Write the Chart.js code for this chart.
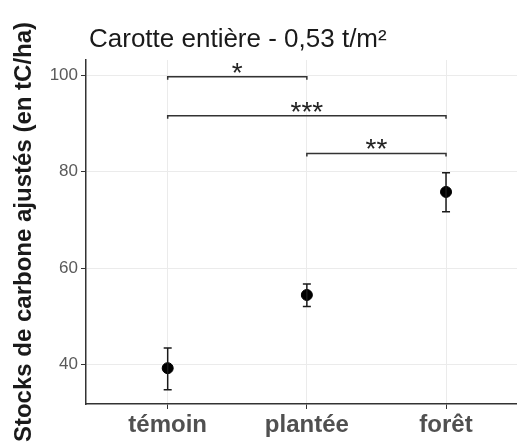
<!DOCTYPE html>
<html>
<head>
<meta charset="utf-8">
<script src="https://cdn.jsdelivr.net/npm/chart.js@4/dist/chart.umd.min.js"></script>
<style>
  html, body { margin: 0; padding: 0; background: #fff; }
  #wrap { width: 517px; height: 444px; }
</style>
</head>
<body>
<div id="wrap"><canvas id="chart"></canvas></div>
<script>
// ------------------ DATA ------------------
const titleText = "Carotte entière - 0,53 t/m²";
const yTitle = "Stocks de carbone ajustés (en tC/ha)";
const categories = ["témoin", "plantée", "forêt"];
const means = [39.2, 54.4, 75.8];
const lowers = [34.7, 52.0, 71.7];
const uppers = [43.4, 56.7, 79.8];
const yTicks = [40, 60, 80, 100];

// significance brackets
const bracketFrom = [0, 0, 1];
const bracketTo = [1, 2, 2];
const bracketY = [99.7, 91.6, 83.8];
const bracketLabels = ["*", "***", "**"];

const FONT = "'Liberation Sans', Arial, sans-serif";

// ------------------ PLUGINS ------------------
const errorBars = {
    id: "errorBars",
    afterDatasetsDraw(chart){
        const ctx = chart.ctx, x = chart.scales.x, y = chart.scales.y;
        ctx.save();
        ctx.strokeStyle = "#1a1a1a";
        ctx.lineWidth = 1.5;
        means.forEach((m, i)=>{
            const px = x.getPixelForValue(i);
            const top = y.getPixelForValue(uppers[i]);
            const bot = y.getPixelForValue(lowers[i]);
            ctx.beginPath();
            ctx.moveTo(px, top); ctx.lineTo(px, bot);
            ctx.moveTo(px-4, top); ctx.lineTo(px+4, top);
            ctx.moveTo(px-4, bot); ctx.lineTo(px+4, bot);
            ctx.stroke();
        });
        ctx.restore();
    }
};

const brackets = {
    id: "brackets",
    afterDatasetsDraw(chart){
        const ctx = chart.ctx, x = chart.scales.x, y = chart.scales.y;
        ctx.save();
        ctx.strokeStyle = "#333";
        ctx.lineWidth = 1.5;
        ctx.fillStyle = "#222";
        ctx.font = "28px " + FONT;
        ctx.textAlign = "center";
        ctx.textBaseline = "alphabetic";
        bracketY.forEach((v, i)=>{
            const x1 = x.getPixelForValue(bracketFrom[i]);
            const x2 = x.getPixelForValue(bracketTo[i]);
            const py = y.getPixelForValue(v);
            ctx.beginPath();
            ctx.moveTo(x1, py+3); ctx.lineTo(x1, py);
            ctx.lineTo(x2, py); ctx.lineTo(x2, py+3);
            ctx.stroke();
            ctx.fillText(bracketLabels[i], (x1+x2)/2, py+5);
        });
        ctx.restore();
    }
};

const titlePlugin = {
    id: "titlePlugin",
    afterDraw(chart){
        const ctx = chart.ctx;
        ctx.save();
        ctx.fillStyle = "#1a1a1a";
        ctx.font = "26px " + FONT;
        ctx.textAlign = "left";
        ctx.textBaseline = "alphabetic";
        ctx.fillText(titleText, 89, 47);
        ctx.restore();
    }
};

// ------------------ CHART ------------------
new Chart(document.getElementById("chart"), {
    type: "scatter",
    data: {
        datasets: [{
            data: means.map((m, i)=>({x: i, y: m})),
            backgroundColor: "#000",
            borderColor: "#000",
            pointRadius: 5.5,
            pointHoverRadius: 5.5
        }]
    },
    options: {
        responsive: true,
        maintainAspectRatio: false,
        animation: false,
        layout: { autoPadding: false, padding: { top: 60, right: 0, left: 0, bottom: 0 } },
        plugins: { legend: { display: false }, tooltip: { enabled: false } },
        scales: {
            x: {
                type: "linear",
                min: -0.587,
                max: 2.51,
                afterBuildTicks(scale){ scale.ticks = categories.map((c, i)=>({value: i})); },
                afterFit(scale){ scale.height = 40; },
                ticks: {
                    callback: (v)=>categories[v] ?? "",
                    color: "#505050",
                    font: { family: FONT, size: 24, weight: "bold" },
                    padding: 2,
                    maxRotation: 0,
                    autoSkip: false
                },
                grid: { color: "#ebebeb", tickColor: "#333", tickLength: 5, lineWidth: 1 },
                border: { color: "#333", width: 1.5 }
            },
            y: {
                min: 31.76,
                max: 103.2,
                afterBuildTicks(scale){ scale.ticks = yTicks.map(v=>({value: v})); },
                afterFit(scale){ scale.width = 86; },
                ticks: {
                    color: "#5a5a5a",
                    font: { family: FONT, size: 17 },
                    padding: 3
                },
                grid: { color: "#ebebeb", tickColor: "#333", tickLength: 5, lineWidth: 1 },
                border: { color: "#333", width: 1.5 },
                title: {
                    display: true,
                    text: yTitle,
                    color: "#1a1a1a",
                    font: { family: FONT, size: 24, weight: "bold" },
                    padding: { top: 10, bottom: 0 }
                }
            }
        }
    },
    plugins: [errorBars, brackets, titlePlugin]
});
</script>
</body>
</html>
